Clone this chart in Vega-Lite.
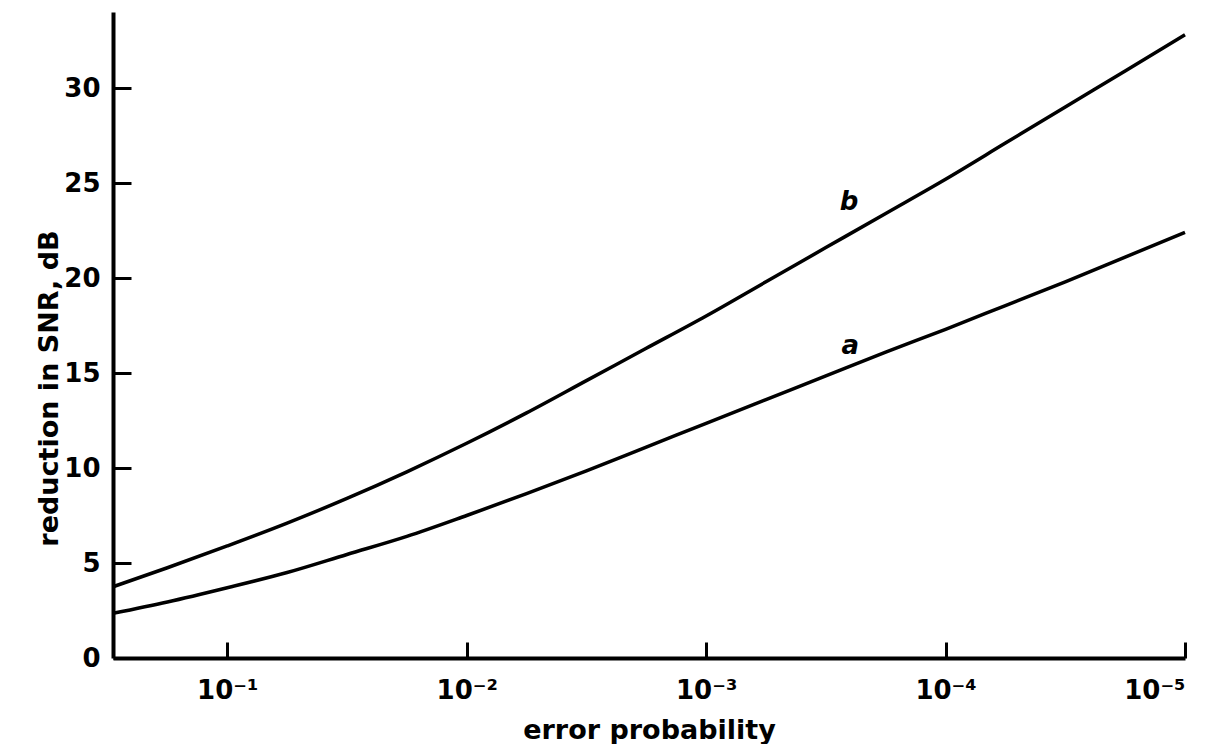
{
  "$schema": "https://vega.github.io/schema/vega-lite/v6.json",
  "autosize": "none",
  "width": 1072,
  "height": 646,
  "padding": {"left": 113, "top": 12, "right": 35, "bottom": 86},
  "background": "white",
  "config": {
    "view": {"stroke": null},
    "font": "DejaVu Sans",
    "axis": {
      "domainColor": "black",
      "domainWidth": 4,
      "tickColor": "black",
      "tickWidth": 3,
      "grid": false,
      "labelColor": "black",
      "labelFont": "DejaVu Sans",
      "labelFontWeight": "bold",
      "labelFontSize": 26,
      "titleColor": "black",
      "titleFont": "DejaVu Sans",
      "titleFontWeight": "bold",
      "titleFontSize": 27
    }
  },
  "data": {
    "values": [
      {"p": 0.3, "snr": 3.75, "curve": "b"},
      {"p": 0.1778, "snr": 4.75, "curve": "b"},
      {"p": 0.1, "snr": 5.9, "curve": "b"},
      {"p": 0.05623, "snr": 7.1, "curve": "b"},
      {"p": 0.03162, "snr": 8.4, "curve": "b"},
      {"p": 0.01778, "snr": 9.8, "curve": "b"},
      {"p": 0.01, "snr": 11.3, "curve": "b"},
      {"p": 0.005623, "snr": 12.9, "curve": "b"},
      {"p": 0.003162, "snr": 14.6, "curve": "b"},
      {"p": 0.001778, "snr": 16.3, "curve": "b"},
      {"p": 0.001, "snr": 18.0, "curve": "b"},
      {"p": 0.0005623, "snr": 19.8, "curve": "b"},
      {"p": 0.0003162, "snr": 21.6, "curve": "b"},
      {"p": 0.0001778, "snr": 23.4, "curve": "b"},
      {"p": 0.0001, "snr": 25.2, "curve": "b"},
      {"p": 0.00005623, "snr": 27.1, "curve": "b"},
      {"p": 0.00003162, "snr": 29.0, "curve": "b"},
      {"p": 0.00001778, "snr": 30.9, "curve": "b"},
      {"p": 0.00001, "snr": 32.8, "curve": "b"},
      {"p": 0.3, "snr": 2.35, "curve": "a"},
      {"p": 0.1778, "snr": 2.95, "curve": "a"},
      {"p": 0.1, "snr": 3.7, "curve": "a"},
      {"p": 0.05623, "snr": 4.5, "curve": "a"},
      {"p": 0.03162, "snr": 5.45, "curve": "a"},
      {"p": 0.01778, "snr": 6.4, "curve": "a"},
      {"p": 0.01, "snr": 7.5, "curve": "a"},
      {"p": 0.005623, "snr": 8.65, "curve": "a"},
      {"p": 0.003162, "snr": 9.85, "curve": "a"},
      {"p": 0.001778, "snr": 11.1, "curve": "a"},
      {"p": 0.001, "snr": 12.35, "curve": "a"},
      {"p": 0.0005623, "snr": 13.6, "curve": "a"},
      {"p": 0.0003162, "snr": 14.85, "curve": "a"},
      {"p": 0.0001778, "snr": 16.1, "curve": "a"},
      {"p": 0.0001, "snr": 17.3, "curve": "a"},
      {"p": 0.00005623, "snr": 18.55, "curve": "a"},
      {"p": 0.00003162, "snr": 19.8, "curve": "a"},
      {"p": 0.00001778, "snr": 21.1, "curve": "a"},
      {"p": 0.00001, "snr": 22.4, "curve": "a"}
    ]
  },
  "layer": [
    {
      "mark": {"type": "line", "color": "black", "strokeWidth": 3.5, "interpolate": "monotone"},
      "encoding": {
        "x": {
          "field": "p",
          "type": "quantitative",
          "scale": {"type": "log", "domain": [0.3, 0.00001], "nice": false},
          "axis": {
            "title": "error probability",
            "values": [0.1, 0.01, 0.001, 0.0001, 0.00001],
            "labelExpr": "'10⁻' + ['','¹','²','³','⁴','⁵'][round(-log(datum.value)/LN10)]",
            "tickSize": -16,
            "labelPadding": 35,
            "labelDx": 12,
            "titleY": 80,
            "titleBaseline": "alphabetic"
          }
        },
        "y": {
          "field": "snr",
          "type": "quantitative",
          "scale": {"domain": [0, 34], "nice": false},
          "axis": {
            "title": "reduction in SNR, dB",
            "values": [0, 5, 10, 15, 20, 25, 30],
            "tickSize": -18,
            "labelPadding": 31,
            "titleX": -56,
            "titleY": 376,
            "titleAlign": "center",
            "titleBaseline": "alphabetic"
          }
        },
        "detail": {"field": "curve"}
      }
    },
    {
      "data": {
        "values": [
          {"p": 0.000253, "snr": 24.0, "label": "b"},
          {"p": 0.00025, "snr": 16.4, "label": "a"}
        ]
      },
      "mark": {"type": "text", "font": "DejaVu Sans", "fontStyle": "italic", "fontWeight": "bold", "fontSize": 26, "color": "black", "baseline": "middle", "align": "center"},
      "encoding": {
        "x": {"field": "p", "type": "quantitative"},
        "y": {"field": "snr", "type": "quantitative"},
        "text": {"field": "label"}
      }
    }
  ]
}
